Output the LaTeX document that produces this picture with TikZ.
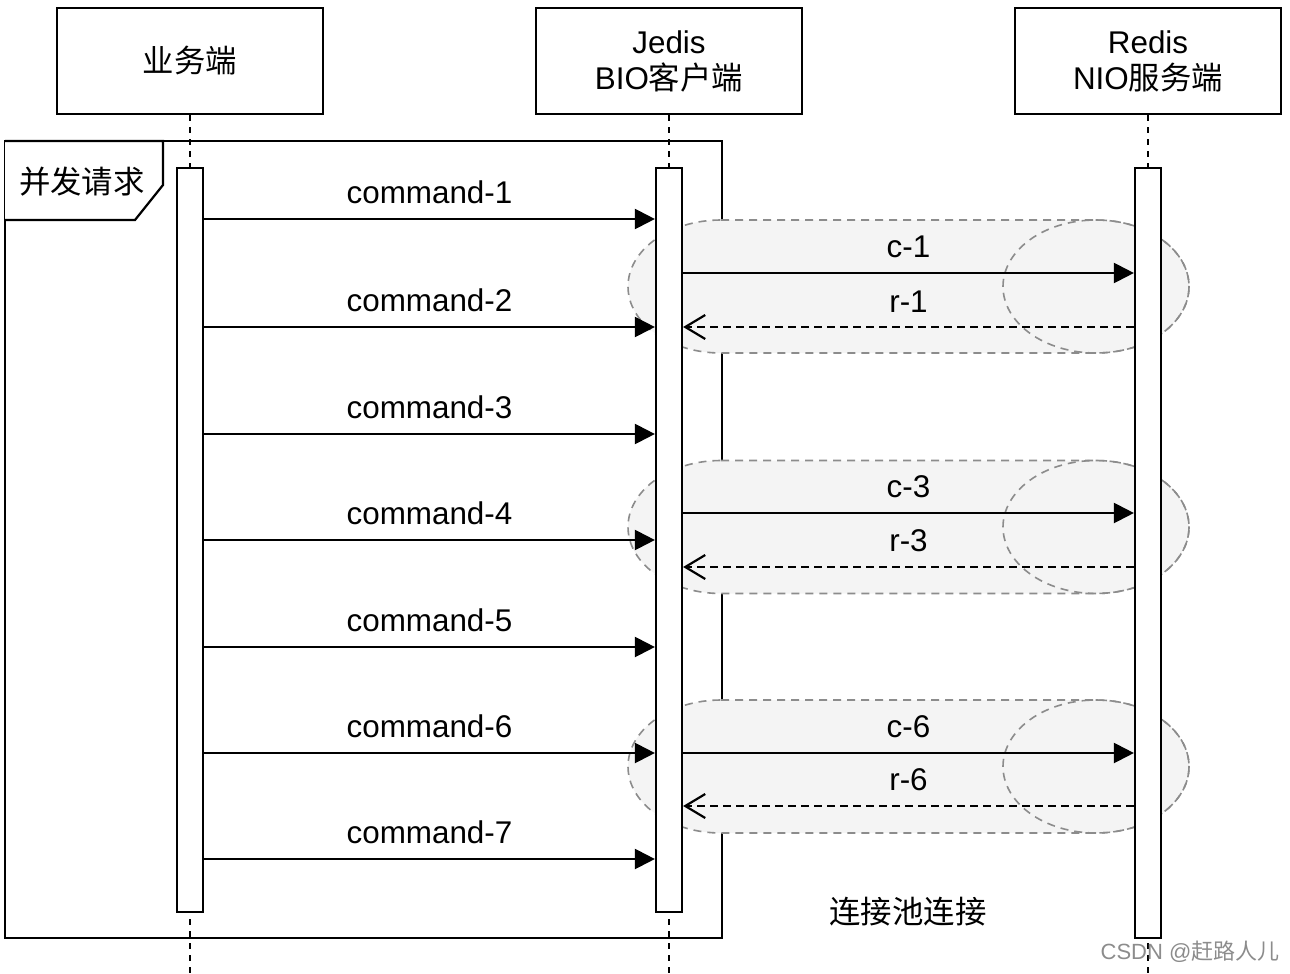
\documentclass[tikz,border=0pt]{standalone}
\usepackage{fontspec}
\setmainfont{Liberation Sans}
\newfontfamily\cjk{Noto Sans CJK SC}
\usetikzlibrary{arrows.meta}
\definecolor{poolfill}{HTML}{F4F4F4}
\definecolor{poolline}{HTML}{8C8C8C}

\begin{document}
\begin{tikzpicture}[x=0.5pt, y=-0.5pt, line width=1.1pt,
		font=\fontsize{15.7}{18}\selectfont,
		actor/.style={draw, minimum width=133pt, minimum height=53pt, align=center, inner sep=0pt},
		bar/.style={draw, fill=white, minimum width=13pt, inner sep=0pt},
		life/.style={dash pattern=on 3pt off 3pt},
		msg/.style={-{Triangle[length=10pt,width=10pt]}},
		reply/.style={dash pattern=on 4pt off 2.5pt, -{Straight Barb[length=10pt,width=12pt]}},
		pool/.style={draw=poolline, fill=poolfill, line width=0.8pt, dash pattern=on 4pt off 3pt},
		lbl/.style={midway, above=3.5pt}]
		\useasboundingbox (0,0) rectangle (1290,974);

		% Participants
		\node[actor] (biz) at (190,61) {\cjk 业务端};
		\node[actor] (jedis) at (669,61) {Jedis\\BIO{\cjk 客户端}};
		\node[actor] (redis) at (1148,61) {Redis\\NIO{\cjk 服务端}};
		\coordinate (endA) at (190,974);
		\coordinate (endB) at (669,974);
		\coordinate (endC) at (1148,974);
		\draw[life] (biz.south) -- (endA);
		\draw[life] (jedis.south) -- (endB);
		\draw[life] (redis.south) -- (endC);

		% Concurrent frame
		\draw (5,141) rectangle (722,938);
		\draw[fill=white] (5,141) -- (163,141) -- (163,185) -- (135,220) -- (5,220);
		\node (tab) at (82,182) {\cjk 并发请求};

		% Connection pool
		\foreach \c in {286.5,527,766.5} {
			\draw[pool] (721,\c-66.5) -- (1096,\c-66.5)
				arc[start angle=270, end angle=450, x radius=93, y radius=66.5]
				-- (721,\c+66.5)
				arc[start angle=90, end angle=270, x radius=93, y radius=66.5] -- cycle;
			\draw[pool, fill=none] (1096,\c) ellipse [x radius=93, y radius=66.5];
		}
		\node (poolname) at (908,912) {\cjk 连接池连接};

		% Activation bars
		\node[bar, minimum height=372pt] (barA) at (190,540) {};
		\node[bar, minimum height=372pt] (barB) at (669,540) {};
		\node[bar, minimum height=385pt] (barC) at (1148,553) {};

		% Commands
		\coordinate (m1) at (0,219);
		\coordinate (m2) at (0,327);
		\coordinate (m3) at (0,434);
		\coordinate (m4) at (0,540);
		\coordinate (m5) at (0,647);
		\coordinate (m6) at (0,753);
		\coordinate (m7) at (0,859);
		\draw[msg] (barA.east |- m1) -- (barB.west |- m1) node[lbl] {command-1};
		\draw[msg] (barA.east |- m2) -- (barB.west |- m2) node[lbl] {command-2};
		\draw[msg] (barA.east |- m3) -- (barB.west |- m3) node[lbl] {command-3};
		\draw[msg] (barA.east |- m4) -- (barB.west |- m4) node[lbl] {command-4};
		\draw[msg] (barA.east |- m5) -- (barB.west |- m5) node[lbl] {command-5};
		\draw[msg] (barA.east |- m6) -- (barB.west |- m6) node[lbl] {command-6};
		\draw[msg] (barA.east |- m7) -- (barB.west |- m7) node[lbl] {command-7};

		% Requests and replies
		\coordinate (c1) at (0,273);
		\coordinate (r1) at (0,327);
		\coordinate (c3) at (0,513);
		\coordinate (r3) at (0,567);
		\coordinate (c6) at (0,753);
		\coordinate (r6) at (0,806);
		\draw[msg] (barB.east |- c1) -- (barC.west |- c1) node[lbl] {c-1};
		\draw[reply] (barC.west |- r1) -- (barB.east |- r1) node[lbl] {r-1};
		\draw[msg] (barB.east |- c3) -- (barC.west |- c3) node[lbl] {c-3};
		\draw[reply] (barC.west |- r3) -- (barB.east |- r3) node[lbl] {r-3};
		\draw[msg] (barB.east |- c6) -- (barC.west |- c6) node[lbl] {c-6};
		\draw[reply] (barC.west |- r6) -- (barB.east |- r6) node[lbl] {r-6};

		\node[text=black!45, font=\fontsize{11}{13}\selectfont] (mark) at (1190,952) {CSDN @{\cjk 赶路人儿}};
	\end{tikzpicture}
\end{document}
